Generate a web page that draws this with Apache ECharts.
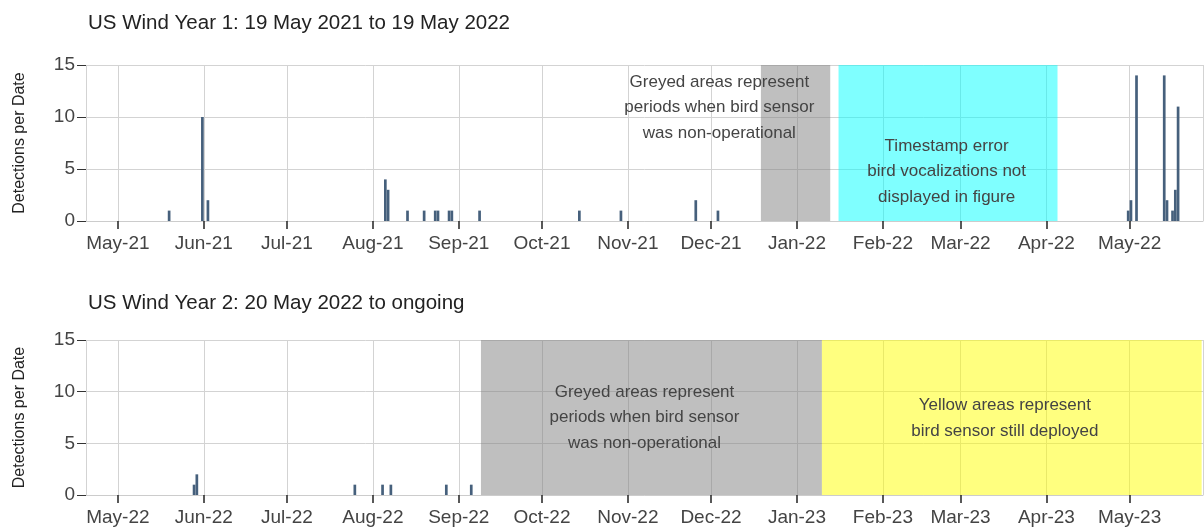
<!DOCTYPE html>
<html>
<head>
<meta charset="utf-8">
<script src="https://cdn.jsdelivr.net/npm/echarts@6/dist/echarts.min.js"></script>
<style>
  html, body { margin: 0; padding: 0; background: #fff; }
  #chart { width: 1204px; height: 527px; }
</style>
</head>
<body>
<div id="chart"></div>
<script>
// year 1: 19 May 2021 - 19 May 2022
var year1Dates = ['2021-05-19', '2021-05-31', '2021-06-02', '2021-08-05', '2021-08-06', '2021-08-13',
  '2021-08-19', '2021-08-23', '2021-08-24', '2021-08-28', '2021-08-29', '2021-09-08', '2021-10-14',
  '2021-10-29', '2021-11-25', '2021-12-03', '2022-04-30', '2022-05-01', '2022-05-03', '2022-05-13',
  '2022-05-14', '2022-05-16', '2022-05-17', '2022-05-18'];
var year1Counts = [1, 10, 2, 4, 3, 1, 1, 1, 1, 1, 1, 1, 1, 1, 2, 1, 1, 2, 14, 14, 2, 1, 3, 11];

// year 2: 20 May 2022 - ongoing
var year2Dates = ['2022-05-28', '2022-05-29', '2022-07-25', '2022-08-04', '2022-08-07', '2022-08-27', '2022-09-05'];
var year2Counts = [1, 2, 1, 1, 1, 1, 1];

var year1Range = ['2021-04-20', '2022-05-27'];
var year2Range = ['2022-04-20', '2023-05-27'];

// shaded periods
var year1Grey = ['2021-12-19', '2022-01-13'];
var year1Cyan = ['2022-01-16', '2022-04-05'];
var year2Grey = ['2022-09-09', '2023-01-10'];
var year2Yellow = ['2023-01-10', '2023-05-27'];

var monthNames = ['Jan', 'Feb', 'Mar', 'Apr', 'May', 'Jun', 'Jul', 'Aug', 'Sep', 'Oct', 'Nov', 'Dec'];
var yTicks = [0, 5, 10, 15];

var titles = ['US Wind Year 1: 19 May 2021 to 19 May 2022', 'US Wind Year 2: 20 May 2022 to ongoing'];
var greyNote = 'Greyed areas represent\nperiods when bird sensor\nwas non-operational';
var cyanNote = 'Timestamp error\nbird vocalizations not\ndisplayed in figure';
var yellowNote = 'Yellow areas represent\nbird sensor still deployed';

var textFont = "'Liberation Sans', Arial, sans-serif";
var DAY = 24 * 3600 * 1000;

var chart = echarts.init(document.getElementById('chart'), null, { renderer: 'canvas' });

function toPoints(dates, counts) {
  // a daily bar covers its whole day, so center it on noon
  return dates.map(function (d, i) { return [d + ' 12:00', counts[i]]; });
}

function note(date, value, text) {
  return { coord: [date, value], label: { formatter: text } };
}

function panel(i, range, points, areas, notes) {
  return {
    grid: { left: 86, width: 1117, top: i === 0 ? 65 : 340, height: 156 },
    xAxis: {
      type: 'time',
      gridIndex: i,
      min: range[0],
      max: range[1],
      splitNumber: 13,
      maxInterval: 31 * DAY,
      axisLine: { show: true, lineStyle: { color: '#cccccc', width: 1 } },
      axisTick: { show: true, length: 8, lineStyle: { color: '#222', width: 1.5 } },
      splitLine: { show: true, lineStyle: { color: '#d3d3d3', width: 1 } },
      axisLabel: {
        margin: 13,
        fontSize: 19,
        fontFamily: textFont,
        color: '#444',
        formatter: function (v) {
          var d = new Date(v);
          return monthNames[d.getMonth()] + '-' + String(d.getFullYear()).slice(2);
        }
      }
    },
    yAxis: {
      type: 'value',
      gridIndex: i,
      min: yTicks[0],
      max: yTicks[yTicks.length - 1],
      interval: yTicks[1] - yTicks[0],
      name: 'Detections per Date',
      nameLocation: 'middle',
      nameGap: 58,
      nameTextStyle: { fontSize: 16, fontFamily: textFont, color: '#222' },
      axisLine: { show: false },
      axisTick: { show: true, length: 9, lineStyle: { color: '#333' } },
      splitLine: { show: true, lineStyle: { color: '#d3d3d3', width: 1 } },
      axisLabel: { margin: 11, fontSize: 19, fontFamily: textFont, color: '#444' }
    },
    series: {
      type: 'bar',
      xAxisIndex: i,
      yAxisIndex: i,
      barWidth: 2.7,
      itemStyle: { color: '#46607c' },
      data: points,
      markArea: { silent: true, data: areas },
      markPoint: {
        silent: true,
        symbol: 'circle',
        symbolSize: 0,
        label: {
          show: true,
          position: 'inside',
          fontSize: 17,
          lineHeight: 25.5,
          fontFamily: textFont,
          color: '#444'
        },
        data: notes
      }
    }
  };
}

function area(span, color) {
  return [{ xAxis: span[0], itemStyle: { color: color } }, { xAxis: span[1] }];
}

var p1 = panel(0, year1Range, toPoints(year1Dates, year1Counts),
  [area(year1Grey, 'rgba(128,128,128,0.5)'), area(year1Cyan, 'rgba(0,255,255,0.5)')],
  [note('2021-12-04', 10.9, greyNote), note('2022-02-24', 4.75, cyanNote)]);
var p2 = panel(1, year2Range, toPoints(year2Dates, year2Counts),
  [area(year2Grey, 'rgba(128,128,128,0.5)'), area(year2Yellow, 'rgba(255,255,0,0.5)')],
  [note('2022-11-07', 7.5, greyNote), note('2023-03-17', 7.4, yellowNote)]);

chart.setOption({
  animation: false,
  title: titles.map(function (t, i) {
    return {
      text: t,
      left: 88,
      top: i === 0 ? 13 : 293,
      padding: 0,
      textStyle: { fontSize: 20.5, fontWeight: 'normal', fontFamily: textFont, color: '#222' }
    };
  }),
  grid: [p1.grid, p2.grid],
  xAxis: [p1.xAxis, p2.xAxis],
  yAxis: [p1.yAxis, p2.yAxis],
  series: [p1.series, p2.series]
});
</script>
</body>
</html>
